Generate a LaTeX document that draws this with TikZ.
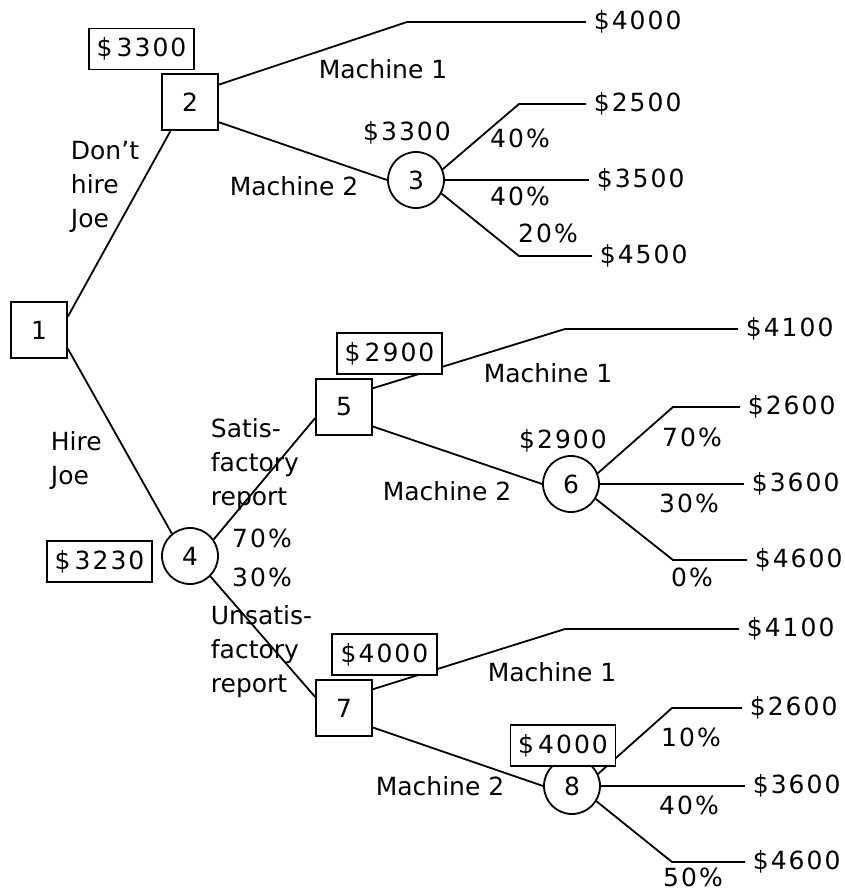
\documentclass[tikz,border=0pt]{standalone}
\usepackage{fontspec}
\setmainfont{DejaVu Sans}
\newfontfamily\numfont[LetterSpace=8]{DejaVu Sans}
\begin{document}
\begin{tikzpicture}[x=1pt,y=-1pt,
  font=\fontsize{25}{34}\selectfont,
  line width=1.8pt,
  dbox/.style={draw, rectangle, minimum width=56pt, minimum height=56pt, inner sep=0pt},
  cnode/.style={draw, circle, minimum size=56pt, inner sep=0pt},
  vbox/.style={draw, rectangle, fill=white, minimum width=105pt, minimum height=41pt, inner sep=0pt, font=\fontsize{25}{34}\numfont},
  lbl/.style={inner sep=0pt, align=left},
  num/.style={inner sep=0pt, font=\fontsize{25}{34}\numfont},
  term/.style={anchor=west, inner xsep=7pt, inner ysep=0pt, font=\fontsize{25}{34}\numfont}]
\useasboundingbox (0,0) rectangle (844,891);
% decision and chance nodes
\node[dbox] (d1) at (39,330) {1};
\node[dbox] (d2) at (190,102) {2};
\node[cnode] (c3) at (416,180) {3};
\node[cnode] (c4) at (190,556) {4};
\node[dbox] (d5) at (344,407) {5};
\node[cnode] (c6) at (571,484) {6};
\node[dbox] (d7) at (344,708) {7};
\node[cnode] (c8) at (572,786) {8};
% bends
\coordinate (b1) at (407,22);
\coordinate (b3a) at (519,104);
\coordinate (b3c) at (519,256);
\coordinate (b5) at (565,329);
\coordinate (b6a) at (673,407);
\coordinate (b6c) at (673,560);
\coordinate (b7) at (565,629);
\coordinate (b8a) at (672,708);
\coordinate (b8c) at (672,862);
% terminal values
\node[term] (t1) at (586,22) {\$4000};
\node[term] (t2) at (586,104) {\$2500};
\node[term] (t3) at (589,180) {\$3500};
\node[term] (t4) at (592,256) {\$4500};
\node[term] (t5) at (738,329) {\$4100};
\node[term] (t6) at (740,407) {\$2600};
\node[term] (t7) at (744,484) {\$3600};
\node[term] (t8) at (747,560) {\$4600};
\node[term] (t9) at (739,629) {\$4100};
\node[term] (t10) at (742,708) {\$2600};
\node[term] (t11) at (745,786) {\$3600};
\node[term] (t12) at (745,862) {\$4600};
% connectors
\draw (d1.25) -- (d2.236);
\draw (d1.-33) -- (c4.129);
\draw (d2.31) -- (b1) -- (t1.west);
\draw (d2.-35) -- (c3.west);
\draw (c3.22) -- (b3a) -- (t2.west);
\draw (c3.east) -- (t3.west);
\draw (c3.-28) -- (b3c) -- (t4.west);
\draw (c4.35) -- (d5.201);
\draw (c4.-45) -- (d7.159);
\draw (d5.33) -- (b5) -- (t5.west);
\draw (d5.-34) -- (c6.west);
\draw (c6.22) -- (b6a) -- (t6.west);
\draw (c6.east) -- (t7.west);
\draw (c6.-31) -- (b6c) -- (t8.west);
\draw (d7.33) -- (b7) -- (t9.west);
\draw (d7.-34) -- (c8.west);
\draw (c8.25) -- (b8a) -- (t10.west);
\draw (c8.east) -- (t11.west);
\draw (c8.-32) -- (b8c) -- (t12.west);
% value boxes
\node[vbox] (v2) at (141.5,49) {\$\,3300};
\node[vbox] (v4) at (99.5,561.5) {\$\,3230};
\node[vbox] (v5) at (389.5,353.5) {\$\,2900};
\node[vbox] (v7) at (384.5,654.5) {\$4000};
\node[vbox] (v8) at (563,745.5) {\$\,4000};
\node[num] (v3) at (407,133) {\$3300};
\node[num] (v6) at (563,441) {\$2900};
% branch labels
\node[lbl] (m21) at (383,69) {Machine 1};
\node[lbl] (m22) at (294,186) {Machine 2};
\node[lbl] (m51) at (548,373) {Machine 1};
\node[lbl] (m52) at (447,491) {Machine 2};
\node[lbl] (m71) at (552,672) {Machine 1};
\node[lbl] (m72) at (440,786) {Machine 2};
\node[lbl,anchor=west] (dh) at (70,187) {Don't\\hire\\Joe};
\node[lbl,anchor=west] (hj) at (50,460) {Hire\\Joe};
\node[lbl,anchor=west] (sr) at (210,465) {Satis-\\factory\\report};
\node[lbl,anchor=west] (ur) at (210,652) {Unsatis-\\factory\\report};
% probabilities
\node[num] (p3a) at (520,138) {40\%};
\node[num] (p3b) at (520,196) {40\%};
\node[num] (p3c) at (548,233) {20\%};
\node[num] (p4a) at (262,538) {70\%};
\node[num] (p4b) at (262,577) {30\%};
\node[num] (p6a) at (692,437) {70\%};
\node[num] (p6b) at (689,503) {30\%};
\node[num] (p6c) at (692,577) {0\%};
\node[num] (p8a) at (691,737) {10\%};
\node[num] (p8b) at (689,805) {40\%};
\node[num] (p8c) at (693,877) {50\%};
\end{tikzpicture}
\end{document}
